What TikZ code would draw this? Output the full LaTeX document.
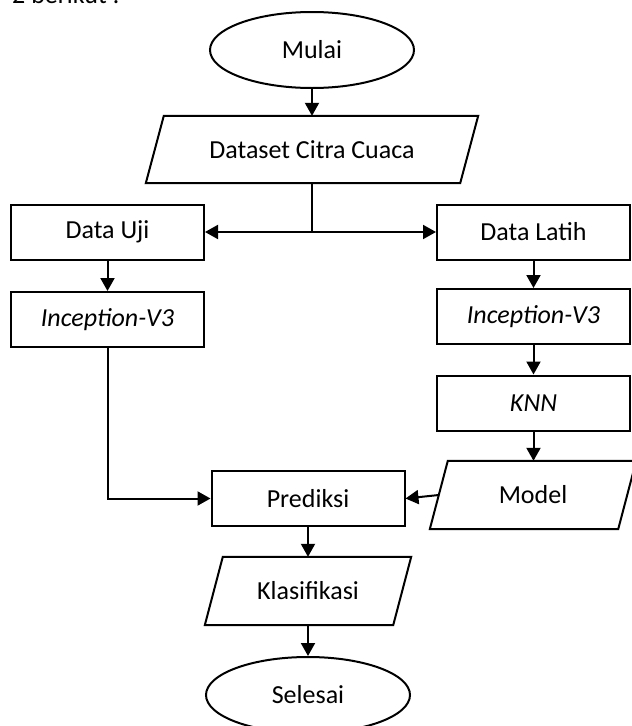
\documentclass[tikz,border=0pt]{standalone}
\usepackage{fontspec}
\setmainfont{Carlito}
\usetikzlibrary{shapes.geometric,arrows.meta}
\begin{document}
\begin{tikzpicture}[x=1pt,y=-1pt,
  every node/.style={font=\fontsize{26}{31}\selectfont, inner sep=0pt},
  box/.style={draw, line width=2pt, rectangle, minimum width=193pt, minimum height=55pt},
  io/.style={rectangle, minimum height=68pt},
  term/.style={draw, line width=2pt, ellipse, minimum width=204pt, minimum height=76pt},
  arr/.style={line width=2pt, -{Triangle[length=13pt,width=14pt]}},
  ln/.style={line width=2pt, line join=miter}]
\useasboundingbox (0,0) rectangle (632,726);
\node[anchor=base west] (cap) at (12,3.5) {2 berikut :};
\node[term] (mulai) at (312,50) {Mulai};
\node[io, minimum width=314pt, minimum height=67pt] (dataset) at (312,149.5) {Dataset Citra Cuaca};
\node[box] (datauji) at (107.5,232) {Data Uji};
\node[box] (datalatih) at (533.5,232) {Data Latih};
\node[box] (incL) at (107.5,319.5) {\itshape Inception-V3};
\node[box] (incR) at (533.5,316.5) {\itshape Inception-V3};
\node[box] (knn) at (533.5,403) {\itshape KNN};
\node[io, minimum width=188pt] (model) at (533,495) {Model};
\node[box] (prediksi) at (308,498.5) {Prediksi};
\node[io, minimum width=188pt] (klas) at (308,591) {Klasifikasi};
\node[term] (selesai) at (308,695) {Selesai};
% parallelogram outlines
\foreach \n in {dataset,model,klas}{
  \draw[ln] ([xshift=-9pt]\n.south west) -- ([xshift=-9pt]\n.south east)
    -- ([xshift=9pt]\n.north east) -- ([xshift=9pt]\n.north west) -- cycle;
}
\coordinate (split) at (dataset.south |- datauji.east);
\draw[arr] (mulai.south) -- (dataset.north);
\draw[ln] (dataset.south) -- (split);
\draw[arr] (split) -- (datauji.east);
\draw[arr] (split) -- (datalatih.west);
\draw[arr] (datauji) -- (incL);
\draw[arr] (datalatih) -- (incR);
\draw[arr] (incR) -- (knn);
\draw[arr] (knn.south) -- (knn.south |- model.north);
\draw[arr] (incL.south) |- (prediksi.west);
\draw[arr] (model.west) -- (prediksi.east);
\draw[arr] (prediksi) -- (klas);
\draw[arr] (klas) -- (selesai);
\end{tikzpicture}
\end{document}
